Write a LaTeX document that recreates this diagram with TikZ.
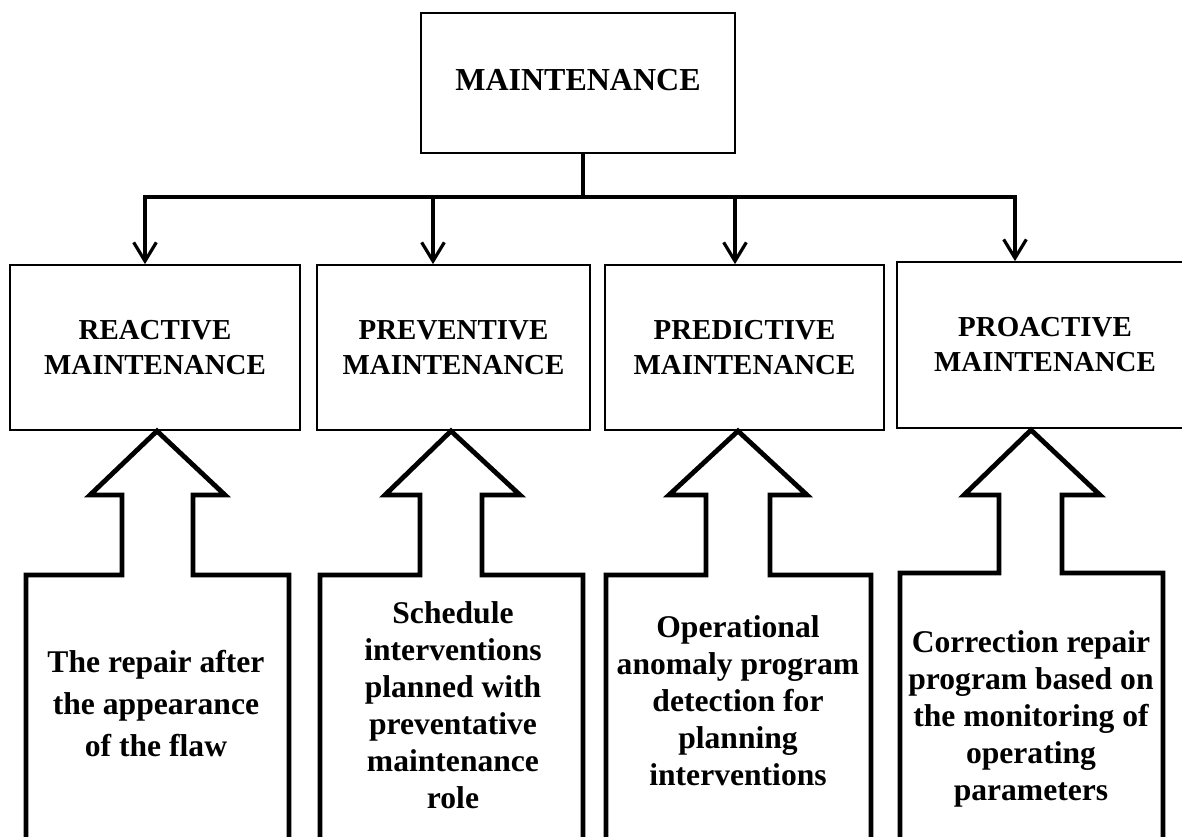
\documentclass[tikz,border=0pt]{standalone}
\usepackage{fontspec}
\setmainfont{Liberation Serif}
\usetikzlibrary{arrows.meta}
\begin{document}
\begin{tikzpicture}[x=0.75pt,y=-0.75pt,
  box/.style={draw,line width=1.3pt,inner sep=0pt,align=center},
  toptext/.style={font=\bfseries\fontsize{24pt}{28pt}\selectfont},
  midtext/.style={font=\bfseries\fontsize{21.7pt}{26.3pt}\selectfont},
  lowtext/.style={align=center,inner sep=0pt,font=\bfseries\fontsize{23.7pt}{27.75pt}\selectfont},
  conn/.style={line width=2.4pt},
  connarrow/.style={line width=2.4pt,-{Straight Barb[length=14pt,width=17pt,line width=2.4pt]}},
  blk/.style={draw,line width=3.6pt,line join=miter,fill=white}]
\clip (0,0) rectangle (1182,836);
\fill[white] (0,0) rectangle (1182,836);

% top box
\node[box,toptext,minimum width=235.5pt,minimum height=105pt,text depth=4pt] (top) at (578,83) {MAINTENANCE};

% second row boxes
\node[box,midtext,minimum width=217.5pt,minimum height=123.75pt] (re) at (155,347.5) {REACTIVE\\MAINTENANCE};
\node[box,midtext,minimum width=204.75pt,minimum height=123.75pt] (pv) at (453.5,347.5) {PREVENTIVE\\MAINTENANCE};
\node[box,midtext,minimum width=209.25pt,minimum height=123.75pt] (pd) at (744.5,347.5) {PREDICTIVE\\MAINTENANCE};
\node[box,midtext,minimum width=222pt,minimum height=124.5pt] (pa) at (1045,345) {PROACTIVE\\MAINTENANCE};

% bus
\coordinate (stem) at (583,197);
\coordinate (b1) at (145,197);
\coordinate (b2) at (433,197);
\coordinate (b3) at (735,197);
\coordinate (b4) at (1015,197);
\draw[conn] (stem |- top.south) -- (stem);
\draw[conn] ([xshift=-1.2pt]b1) -- ([xshift=1.2pt]b4);
\draw[connarrow] (b1) -- (b1 |- re.north);
\draw[connarrow] (b2) -- (b2 |- pv.north);
\draw[connarrow] (b3) -- (b3 |- pd.north);
\draw[connarrow] (b4) -- (b4 |- pa.north);

% block arrows
\draw[blk] (26,850) -- (26,575) -- (122,575) -- (122,495) -- (90,495) -- (157,431)
  -- (225,495) -- (193,495) -- (193,575) -- (289,575) -- (289,850);
\draw[blk] (320,850) -- (320,575) -- (420,575) -- (420,495) -- (385,495) -- (451,431)
  -- (520,495) -- (482,495) -- (482,575) -- (583,575) -- (583,850);
\draw[blk] (606,850) -- (606,575) -- (706,575) -- (706,495) -- (669,495) -- (738,431)
  -- (807,495) -- (770,495) -- (770,575) -- (871,575) -- (871,850);
\draw[blk] (900,850) -- (900,573) -- (999,573) -- (999,495) -- (964,495) -- (1031,430)
  -- (1100,495) -- (1062,495) -- (1062,573) -- (1163,573) -- (1163,850);

% texts
\node[lowtext,font=\bfseries\fontsize{23.7pt}{31.5pt}\selectfont] (t1) at (156,704) {The repair after\\the appearance\\of the flaw};
\node[lowtext] (t2) at (453,705) {Schedule\\interventions\\planned with\\preventative\\maintenance\\role};
\node[lowtext] (t3) at (738,701) {Operational\\anomaly program\\detection for\\planning\\interventions};
\node[lowtext] (t4) at (1031,719) {Correction repair\\program based on\\the monitoring of\\operating\\parameters};
\end{tikzpicture}
\end{document}
